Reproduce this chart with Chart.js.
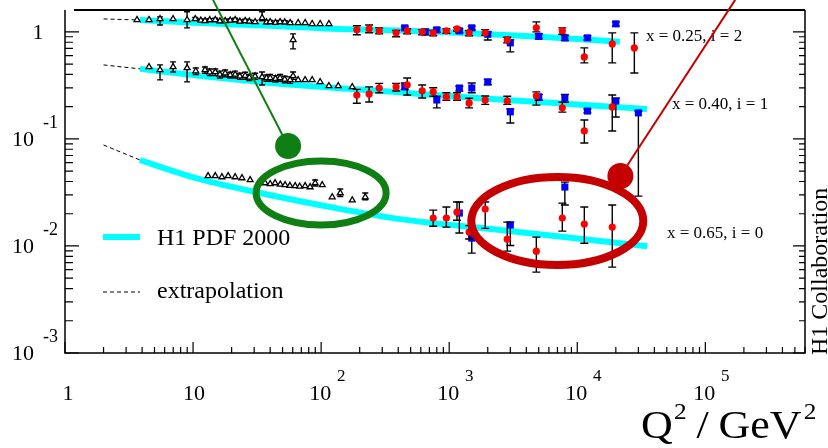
<!DOCTYPE html>
<html>
<head>
<meta charset="utf-8">
<script src="https://cdn.jsdelivr.net/npm/chart.js"></script>
<style>
  body { margin: 0; background: #fff; }
  canvas { display: block; }
</style>
</head>
<body>
<canvas id="f2" width="828" height="448"></canvas>
<script>
// ---- x = 0.25 (scaled by 2^2) ----
const fitQ_25 = [3.85, 11.3, 40, 123, 414, 1200, 5100, 21500];
const fitV_25 = [1.29, 1.21, 1.14, 1.067, 1.03, 0.98, 0.90, 0.81];
const extQ_25 = [2, 3.85];
const extV_25 = [1.32, 1.29];
const lowQ_25 = [3.65, 4.53, 5.52, 6.98, 8.98, 10.4, 11.5, 12.4, 13.5, 14.9, 16.2, 17.8, 19.5, 21.3, 23.2, 25.5, 27.5, 30.5, 34.6, 37.5, 40, 44, 47.8, 52, 57.3, 60.4, 66.1, 75, 85.1, 98.2, 115];
const lowV_25 = [1.295, 1.295, 1.32, 1.32, 1.295, 1.32, 1.28, 1.267, 1.29, 1.295, 1.26, 1.267, 1.28, 1.295, 1.25, 1.267, 1.25, 1.24, 1.35, 1.23, 1.24, 1.22, 1.24, 1.23, 1.214, 0.842, 1.214, 1.214, 1.188, 1.188, 1.188];
const lowLo_25 = [null, null, 1.16, null, 1.09, 1.28, 1.24, 1.23, 1.25, 1.25, 1.22, 1.23, 1.24, 1.25, 1.21, 1.23, 1.21, 1.20, 1.27, 1.19, 1.20, 1.18, 1.20, 1.19, 1.18, 0.693, null, null, null, null, null];
const lowHi_25 = [null, null, 1.38, null, 1.54, 1.36, 1.32, 1.31, 1.33, 1.34, 1.30, 1.31, 1.32, 1.34, 1.29, 1.31, 1.29, 1.28, 1.54, 1.27, 1.28, 1.26, 1.28, 1.27, 1.25, 0.958, null, null, null, null, null];
const redQ_25 = [190, 237, 284, 385, 470, 615, 750, 950, 1150, 1430, 1910, 2840, 4790, 7640, 11350, 18750, 27900];
const redV_25 = [1.044, 1.067, 1.022, 0.979, 1.022, 1.0, 0.979, 1.022, 1.067, 0.979, 0.979, 0.842, 1.09, 1.022, 0.583, 0.772, 0.708];
const redLo_25 = [0.94, 0.98, 0.96, 0.90, 0.96, 0.94, 0.92, 0.97, 1.02, 0.92, 0.93, 0.79, 1.0, 0.95, 0.513, 0.513, 0.413];
const redHi_25 = [1.14, 1.16, 1.09, 1.03, 1.07, 1.05, 1.03, 1.07, 1.10, 1.03, 1.05, 0.89, 1.24, 1.09, 0.708, 0.979, 0.979];
const blueQ_25 = [450, 650, 800, 1200, 1500, 2000, 3000, 5000, 8000, 12000, 20000];
const blueV_25 = [1.09, 1.0, 1.044, 1.022, 1.09, 0.948, 0.789, 0.908, 0.879, 0.879, 1.188];
const blueLo_25 = [1.04, 0.94, 0.99, 0.98, 1.04, 0.84, 0.65, 0.86, 0.83, 0.84, 1.13];
const blueHi_25 = [1.13, 1.06, 1.09, 1.07, 1.13, 1.0, 0.842, 0.96, 0.93, 0.92, 1.24];

// ---- x = 0.40 (scaled by 2^1) ----
const fitQ_40 = [3.85, 11.3, 40, 365, 1200, 5100, 35000];
const fitV_40 = [0.451, 0.388, 0.333, 0.275, 0.247, 0.221, 0.190];
const extQ_40 = [2, 3.85];
const extV_40 = [0.491, 0.451];
const lowQ_40 = [4.53, 5.52, 6.98, 8.98, 10.5, 12.4, 13.5, 14.9, 16.2, 17.8, 19.5, 21.3, 23.2, 25.5, 27.5, 30.5, 34.6, 37.5, 40, 44, 47.8, 52, 57.3, 60.4, 66.1, 75, 85.1, 98.2, 115, 136, 175];
const lowV_40 = [0.471, 0.441, 0.471, 0.46, 0.43, 0.441, 0.42, 0.422, 0.40, 0.41, 0.395, 0.40, 0.385, 0.39, 0.375, 0.385, 0.379, 0.37, 0.371, 0.365, 0.371, 0.36, 0.356, 0.388, 0.356, 0.356, 0.356, 0.341, 0.313, 0.313, 0.306];
const lowLo_40 = [null, 0.356, 0.422, 0.341, 0.40, 0.41, 0.39, 0.39, 0.37, 0.38, 0.37, 0.37, 0.36, 0.36, 0.35, 0.36, 0.319, 0.345, 0.345, 0.34, 0.345, 0.335, 0.33, 0.36, null, null, null, null, null, null, null];
const lowHi_40 = [null, 0.491, 0.524, 0.524, 0.46, 0.47, 0.45, 0.45, 0.43, 0.44, 0.42, 0.43, 0.41, 0.42, 0.40, 0.41, 0.422, 0.395, 0.40, 0.39, 0.40, 0.385, 0.38, 0.422, null, null, null, null, null, null, null];
const redQ_40 = [190, 237, 284, 385, 470, 615, 750, 950, 1150, 1430, 1910, 2840, 4790, 7640, 11350, 18750];
const redV_40 = [0.257, 0.263, 0.299, 0.306, 0.319, 0.281, 0.275, 0.247, 0.247, 0.217, 0.231, 0.226, 0.252, 0.195, 0.1186, 0.199];
const redLo_40 = [0.215, 0.221, 0.27, 0.28, 0.257, 0.241, 0.25, 0.23, 0.23, 0.195, 0.21, 0.21, 0.207, 0.178, 0.0916, 0.1186];
const redHi_40 = [0.29, 0.306, 0.33, 0.33, 0.37, 0.319, 0.30, 0.27, 0.27, 0.24, 0.252, 0.25, 0.275, 0.22, 0.150, 0.257];
const blueQ_40 = [450, 800, 1200, 1500, 2000, 3000, 5000, 8000, 12000, 20000, 30000];
const blueV_40 = [0.306, 0.231, 0.299, 0.299, 0.341, 0.179, 0.247, 0.241, 0.182, 0.226, 0.175];
const blueLo_40 = [0.29, 0.195, 0.28, 0.27, 0.32, 0.141, 0.23, 0.22, 0.175, 0.16, 0.0292];
const blueHi_40 = [0.333, 0.25, 0.31, 0.333, 0.36, 0.19, 0.26, 0.26, 0.19, 0.24, 0.182];

// ---- x = 0.65 (unscaled) ----
const fitQ_65 = [3.85, 6.61, 11.3, 33.4, 117.6, 414, 2500, 35200];
const fitV_65 = [0.0635, 0.0512, 0.0421, 0.0312, 0.0231, 0.0178, 0.0141, 0.00995];
const extQ_65 = [2, 3.85];
const extV_65 = [0.0877, 0.0635];
const lowQ_65 = [13.1, 14.9, 16.8, 18.8, 21.3, 24.1, 27.9, 33, 36.5, 40, 43.7, 48, 52.3, 57, 62.7, 68, 75, 82, 89.8, 102, 122, 141, 175, 221];
const lowV_65 = [0.045, 0.045, 0.044, 0.045, 0.044, 0.0431, 0.0413, 0.039, 0.0387, 0.038, 0.0387, 0.0375, 0.0371, 0.0365, 0.0363, 0.036, 0.0363, 0.0355, 0.0387, 0.0371, 0.0286, 0.0312, 0.0268, 0.0286];
const lowLo_65 = [null, null, null, null, null, null, null, null, null, null, null, null, null, null, null, null, null, null, 0.0363, null, null, 0.029, null, 0.027];
const lowHi_65 = [null, null, null, null, null, null, null, null, null, null, null, null, null, null, null, null, null, null, 0.0413, null, null, 0.034, null, 0.0312];
const redQ_65 = [750, 950, 1150, 1430, 1910, 2840, 4790, 7640, 11350, 18750];
const redV_65 = [0.0182, 0.0182, 0.0207, 0.0135, 0.0221, 0.01158, 0.00894, 0.0182, 0.016, 0.015];
const redLo_65 = [0.0153, 0.0150, 0.0174, 0.0116, 0.0146, 0.00894, 0.00569, 0.01375, 0.0106, 0.00634];
const redHi_65 = [0.0216, 0.0231, 0.0257, 0.0155, 0.0257, 0.0167, 0.0121, 0.0251, 0.0231, 0.0241];
const blueQ_65 = [1200, 1500, 3000, 8000];
const blueV_65 = [0.0203, 0.01183, 0.0157, 0.0355];
const blueLo_65 = [0.0132, 0.00857, 0.0101, 0.0241];
const blueHi_65 = [0.0257, 0.0135, 0.0167, 0.0395];

// axis decades and bin labels
const xDecades = [0, 1, 2, 3, 4, 5];
const yDecades = [0, -1, -2, -3];
const binLabels = ['x = 0.25, i = 2', 'x = 0.40, i = 1', 'x = 0.65, i = 0'];

const serif = '"Liberation Serif", "DejaVu Serif", serif';

function pts(q, v, lo, hi) {
  return q.map((x, i) => ({ x: x, y: v[i], lo: lo ? lo[i] : null, hi: hi ? hi[i] : null }));
}

function fitLine(q, v) {
  return { data: pts(q, v), showLine: true, borderColor: '#00ffff', borderWidth: 6,
           cubicInterpolationMode: 'monotone', pointRadius: 0, order: 9 };
}
function extLine(q, v) {
  return { data: pts(q, v), showLine: true, borderColor: '#000', borderWidth: 1,
           borderDash: [4, 3], pointRadius: 0, order: 8 };
}
function lowSet(q, v, lo, hi) {
  return { data: pts(q, v, lo, hi), errBars: true, cap: 3, pointStyle: 'triangle', pointRadius: 3.4,
           pointBackgroundColor: '#fff', pointBorderColor: '#000', pointBorderWidth: 1.3, order: 3 };
}
function redSet(q, v, lo, hi) {
  return { data: pts(q, v, lo, hi), errBars: true, cap: 4, pointStyle: 'circle', pointRadius: 3.6,
           pointBackgroundColor: '#ff0000', pointBorderWidth: 0, order: 1 };
}
function blueSet(q, v, lo, hi) {
  return { data: pts(q, v, lo, hi), errBars: true, cap: 4, pointStyle: 'rect', pointRadius: 5,
           pointBackgroundColor: '#0000ff', pointBorderWidth: 0, order: 2 };
}

// vertical error bars with caps, drawn just under each marker set
const errorBars = {
  id: 'errorBars',
  beforeDatasetDraw(chart, args) {
    const ds = chart.data.datasets[args.index];
    if (!ds.errBars) return;
    const ctx = chart.ctx, xs = chart.scales.x, ys = chart.scales.y;
    const w = ds.cap;
    ctx.save();
    ctx.strokeStyle = '#000';
    ctx.lineWidth = 1.4;
    ctx.beginPath();
    ds.data.forEach(p => {
      if (p.lo == null && p.hi == null) return;
      const px = xs.getPixelForValue(p.x);
      const top = ys.getPixelForValue(p.hi != null ? p.hi : p.y);
      const bot = ys.getPixelForValue(p.lo != null ? p.lo : p.y);
      ctx.moveTo(px, top); ctx.lineTo(px, bot);
      if (p.hi != null) { ctx.moveTo(px - w, top); ctx.lineTo(px + w, top); }
      if (p.lo != null) { ctx.moveTo(px - w, bot); ctx.lineTo(px + w, bot); }
    });
    ctx.stroke();
    ctx.restore();
  }
};

// frame, inward ticks, tick labels, legend and text
const frame = {
  id: 'frame',
  afterDraw(chart) {
    const ctx = chart.ctx, a = chart.chartArea, x = chart.scales.x, y = chart.scales.y;
    ctx.save();
    ctx.strokeStyle = '#000';
    ctx.lineWidth = 1.5;
    ctx.beginPath();
    ctx.moveTo(a.left, a.top); ctx.lineTo(a.left, a.bottom);
    ctx.lineTo(a.right, a.bottom); ctx.lineTo(a.right, a.top);
    ctx.stroke();
    ctx.lineWidth = 2;
    ctx.beginPath();
    ctx.moveTo(a.left + 9, a.top); ctx.lineTo(a.right, a.top);
    ctx.stroke();

    ctx.lineWidth = 1.2;
    ctx.beginPath();
    xDecades.forEach(d => {
      for (let m = 1; m <= 9; m++) {
        const v = m * Math.pow(10, d);
        if (v > x.max) break;
        const px = x.getPixelForValue(v);
        ctx.moveTo(px, a.bottom); ctx.lineTo(px, a.bottom - (m === 1 ? 11 : 6));
      }
    });
    yDecades.forEach(d => {
      for (let m = 1; m <= 9; m++) {
        const v = m * Math.pow(10, d);
        if (v > y.max) break;
        const py = y.getPixelForValue(v);
        ctx.moveTo(a.left, py); ctx.lineTo(a.left + (m === 1 ? 14 : 8), py);
        ctx.moveTo(a.right, py); ctx.lineTo(a.right - (m === 1 ? 12 : 6), py);
      }
    });
    ctx.stroke();

    // tick labels
    ctx.fillStyle = '#000';
    ctx.textBaseline = 'alphabetic';
    yDecades.forEach(d => {
      const py = y.getPixelForValue(Math.pow(10, d));
      if (d === 0) {
        ctx.font = '22px ' + serif; ctx.textAlign = 'center';
        ctx.fillText('1', 38, py + 7);
      } else {
        ctx.font = '22px ' + serif; ctx.textAlign = 'left';
        ctx.fillText('10', 12, py + 7);
        ctx.font = '18px ' + serif;
        ctx.fillText(String(d), 43, py - 11);
      }
    });
    xDecades.forEach(d => {
      const px = x.getPixelForValue(Math.pow(10, d));
      ctx.font = '22px ' + serif; ctx.textAlign = 'center';
      if (d === 0) ctx.fillText('1', px + 3, 400);
      else if (d === 1) ctx.fillText('10', px + 1, 400);
      else {
        ctx.fillText('10', px - 1, 400);
        ctx.font = '17px ' + serif;
        ctx.fillText(String(d), px + 20, 381);
      }
    });

    // axis title Q^2 / GeV^2, slightly widened
    ctx.textAlign = 'left';
    ctx.save();
    ctx.translate(641, 438);
    ctx.scale(1.1, 1);
    let tx = 0;
    const parts = [['Q', 40, 0, 1], ['2', 23, -19, 9], ['/', 40, 0, 9], ['GeV', 40, 0, 2], ['2', 23, -19, 0]];
    parts.forEach(([s, size, dy, gap]) => {
      ctx.font = size + 'px ' + serif;
      ctx.fillText(s, tx, dy);
      tx += ctx.measureText(s).width + gap;
    });
    ctx.restore();

    // bin labels
    ctx.font = '17px ' + serif;
    ctx.fillText(binLabels[0], 646, 41);
    ctx.fillText(binLabels[1], 672, 109);
    ctx.fillText(binLabels[2], 667, 238);

    // legend
    ctx.strokeStyle = '#00ffff';
    ctx.lineWidth = 6;
    ctx.beginPath(); ctx.moveTo(103, 237); ctx.lineTo(140, 237); ctx.stroke();
    ctx.strokeStyle = '#000';
    ctx.lineWidth = 1;
    ctx.setLineDash([4, 3]);
    ctx.beginPath(); ctx.moveTo(103, 292); ctx.lineTo(140, 292); ctx.stroke();
    ctx.setLineDash([]);
    ctx.font = '24px ' + serif;
    ctx.fillText('H1 PDF 2000', 157, 245);
    ctx.fillText('extrapolation', 157, 298);

    // collaboration tag
    ctx.save();
    ctx.translate(827, 355);
    ctx.rotate(-Math.PI / 2);
    ctx.font = '24px ' + serif;
    ctx.fillText('H1 Collaboration', 0, 0);
    ctx.restore();

    // highlight markers on the plot
    const P = (q, v) => [x.getPixelForValue(q), y.getPixelForValue(v)];
    const green = '#0f7f14', red = '#c40000';
    let s = P(14.3, 1.99), e = P(55.2, 0.0858);
    ctx.strokeStyle = green; ctx.fillStyle = green; ctx.lineWidth = 2;
    ctx.beginPath(); ctx.moveTo(s[0], s[1]); ctx.lineTo(e[0], e[1]); ctx.stroke();
    ctx.beginPath(); ctx.arc(e[0], e[1], 13, 0, 2 * Math.PI); ctx.fill();
    let c = P(100, 0.0312);
    ctx.lineWidth = 7;
    ctx.beginPath(); ctx.ellipse(c[0], c[1], 65, 32, 0, 0, 2 * Math.PI); ctx.stroke();

    s = P(1.71e5, 1.99); e = P(21700, 0.045);
    ctx.strokeStyle = red; ctx.fillStyle = red; ctx.lineWidth = 2;
    ctx.beginPath(); ctx.moveTo(s[0], s[1]); ctx.lineTo(e[0], e[1]); ctx.stroke();
    ctx.beginPath(); ctx.arc(e[0], e[1], 13, 0, 2 * Math.PI); ctx.fill();
    c = P(6980, 0.0171);
    ctx.lineWidth = 8;
    ctx.beginPath(); ctx.ellipse(c[0], c[1], 86, 44, 0, 0, 2 * Math.PI); ctx.stroke();
    ctx.restore();
  }
};

new Chart(document.getElementById('f2'), {
  type: 'scatter',
  data: {
    datasets: [
      fitLine(fitQ_25, fitV_25), fitLine(fitQ_40, fitV_40), fitLine(fitQ_65, fitV_65),
      extLine(extQ_25, extV_25), extLine(extQ_40, extV_40), extLine(extQ_65, extV_65),
      lowSet(lowQ_25, lowV_25, lowLo_25, lowHi_25),
      lowSet(lowQ_40, lowV_40, lowLo_40, lowHi_40),
      lowSet(lowQ_65, lowV_65, lowLo_65, lowHi_65),
      blueSet(blueQ_25, blueV_25, blueLo_25, blueHi_25),
      blueSet(blueQ_40, blueV_40, blueLo_40, blueHi_40),
      blueSet(blueQ_65, blueV_65, blueLo_65, blueHi_65),
      redSet(redQ_25, redV_25, redLo_25, redHi_25),
      redSet(redQ_40, redV_40, redLo_40, redHi_40),
      redSet(redQ_65, redV_65, redLo_65, redHi_65)
    ]
  },
  options: {
    responsive: false,
    animation: false,
    layout: { padding: { left: 65, right: 23, top: 10, bottom: 95 } },
    scales: {
      x: { type: 'logarithmic', min: 1, max: 6e5, display: false },
      y: { type: 'logarithmic', min: 1e-3, max: 1.6, display: false }
    },
    plugins: { legend: { display: false }, tooltip: { enabled: false } }
  },
  plugins: [errorBars, frame]
});
</script>
</body>
</html>
